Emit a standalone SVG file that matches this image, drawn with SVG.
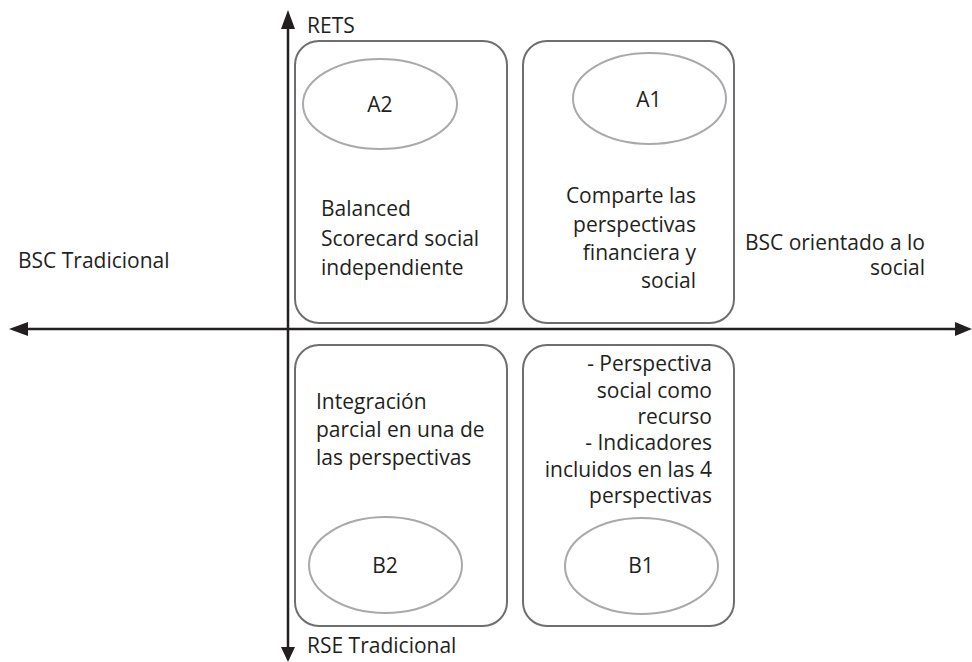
<svg xmlns="http://www.w3.org/2000/svg" width="972" height="662" viewBox="0 0 972 662">
<style>
text{font-family:"Open Sans","Noto Sans","Liberation Sans",sans-serif;font-size:21px;fill:#231f20}
.box{fill:none;stroke:#6d6e71;stroke-width:2}
.ell{fill:none;stroke:#a7a9ac;stroke-width:2}
.axis{stroke:#231f20;stroke-width:2.5;fill:none}
.head{fill:#231f20}
.e{text-anchor:end}
.m{text-anchor:middle}
</style>
<rect width="972" height="662" fill="#fff"/>
<g id="connectors">
<line class="axis" x1="288" y1="650" x2="288" y2="28"/>
<path class="head" d="M288,10 L281,29 L295,29 z"/>
<path class="head" d="M288,662 L281,647 L295,647 z"/>
<line class="axis" x1="26" y1="329" x2="955" y2="329"/>
<path class="head" d="M9,329 L28,322 L28,336 z"/>
<path class="head" d="M972,329 L955,322 L955,336 z"/>
</g>
<g id="A2">
<rect class="box" x="295" y="41" width="212" height="282" rx="24"/>
<ellipse class="ell" cx="380" cy="104" rx="77" ry="45"/>
<text class="m" x="380" y="112">A2</text>
<text x="321" y="216">Balanced</text>
<text x="321" y="246">Scorecard social</text>
<text x="321" y="275">independiente</text>
</g>
<g id="A1">
<rect class="box" x="523" y="41" width="211" height="282" rx="24"/>
<ellipse class="ell" cx="649.5" cy="98.5" rx="76.5" ry="45.5"/>
<text class="m" x="649" y="107">A1</text>
<text class="e" x="696" y="203">Comparte las</text>
<text class="e" x="696" y="232">perspectivas</text>
<text class="e" x="696" y="260">financiera y</text>
<text class="e" x="696" y="288">social</text>
</g>
<g id="B2">
<rect class="box" x="295" y="345" width="212" height="281" rx="24"/>
<ellipse class="ell" cx="385.5" cy="565" rx="76.5" ry="48"/>
<text class="m" x="385" y="573">B2</text>
<text x="316" y="409">Integración</text>
<text x="316" y="437">parcial en una de</text>
<text x="316" y="465">las perspectivas</text>
</g>
<g id="B1">
<rect class="box" x="523" y="345" width="211" height="281" rx="24"/>
<ellipse class="ell" cx="641.5" cy="566" rx="76.5" ry="48"/>
<text class="m" x="641" y="573">B1</text>
<text class="e" x="712" y="371">- Perspectiva</text>
<text class="e" x="712" y="398">social como</text>
<text class="e" x="712" y="424">recurso</text>
<text class="e" x="712" y="450">- Indicadores</text>
<text class="e" x="712" y="477">incluidos en las 4</text>
<text class="e" x="712" y="503">perspectivas</text>
</g>
<g id="labels">
<text x="307" y="33">RETS</text>
<text x="307" y="653">RSE Tradicional</text>
<text x="18" y="268">BSC Tradicional</text>
<text class="e" x="925" y="250">BSC orientado a lo</text>
<text class="e" x="925" y="275">social</text>
</g>
</svg>
